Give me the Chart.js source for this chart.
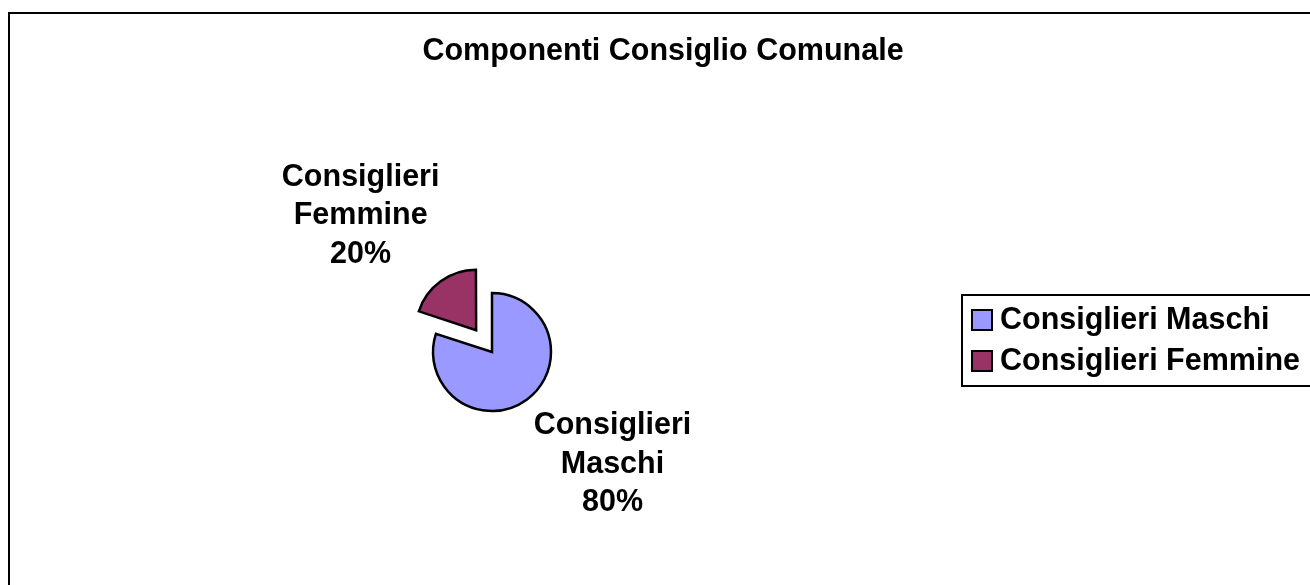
<!DOCTYPE html>
<html lang="it">
  <head>
    <meta charset="UTF-8" />
    <title>Componenti Consiglio Comunale</title>
    <script src="https://cdn.jsdelivr.net/npm/chart.js"></script>
    <style>
      html, body { margin: 0; padding: 0; background: #fff; }
      .wrap { position: relative; width: 1310px; height: 585px; }
    </style>
  </head>
  <body>
    <div class="wrap">
      <canvas id="pie" width="1310" height="585"></canvas>
    </div>
    <script>
      // data
      const chartTitle = "Componenti Consiglio Comunale";
      const categories = ["Consiglieri Maschi", "Consiglieri Femmine"];
      const shares = [80, 20];
      const sliceColors = ["#9999FF", "#993366"];
      const explode = [0, 108]; // chart.js v4 moves a slice by offset / 4

      const FONT = "'Liberation Sans', Arial, sans-serif";
      const BOLD = "bold 30.5px " + FONT;

      // white page, outer frame (only top and left edges visible) and title
      const framePlugin = {
        id: "frame",
        beforeDraw(chart) {
          const ctx = chart.ctx;
          ctx.save();
          ctx.fillStyle = "#fff";
          ctx.fillRect(0, 0, chart.width, chart.height);
          ctx.strokeStyle = "#000";
          ctx.lineWidth = 2;
          ctx.beginPath();
          ctx.moveTo(9, chart.height + 5);
          ctx.lineTo(9, 13);
          ctx.lineTo(chart.width + 5, 13);
          ctx.stroke();
          ctx.font = BOLD;
          ctx.fillStyle = "#000";
          ctx.textAlign = "center";
          ctx.textBaseline = "alphabetic";
          ctx.fillText(chartTitle, 663, 60);
          ctx.restore();
        }
      };

      // labels outside each slice: name + percent, bold, 3 lines
      const sliceLabels = {
        id: "sliceLabels",
        afterDatasetsDraw(chart) {
          const ctx = chart.ctx;
          const meta = chart.getDatasetMeta(0);
          const total = shares.reduce((a, b) => a + b, 0);
          ctx.save();
          ctx.font = BOLD;
          ctx.fillStyle = "#000";
          ctx.textAlign = "center";
          ctx.textBaseline = "middle";
          const lh = 38.5;
          meta.data.forEach((arc, i) => {
            const p = arc.getProps(["x", "y", "startAngle", "endAngle", "outerRadius"], true);
            const mid = (p.startAngle + p.endAngle) / 2;
            const push = explode[i] / 4;
            const ex = p.x + Math.cos(mid) * (p.outerRadius + push);
            const ey = p.y + Math.sin(mid) * (p.outerRadius + push);
            const words = categories[i].split(" ");
            const lines = words.concat([Math.round(shares[i] / total * 100) + "%"]);
            const w = Math.max(...lines.map(l => ctx.measureText(l).width));
            const h = lines.length * lh;
            const left = Math.cos(mid) >= 0 ? ex + 7 : ex - 2 - w;
            const top = Math.sin(mid) >= 0 ? ey + 7 : ey - 9 - h;
            lines.forEach((l, k) => {
              ctx.fillText(l, left + w / 2, top + lh / 2 + k * lh);
            });
          });
          ctx.restore();
        }
      };

      // boxed legend on the right
      const boxLegend = {
        id: "boxLegend",
        afterDraw(chart) {
          const ctx = chart.ctx;
          const ds = chart.data.datasets[0];
          ctx.save();
          ctx.strokeStyle = "#000";
          ctx.lineWidth = 2;
          ctx.strokeRect(962, 295, 400, 91);
          ctx.font = BOLD;
          ctx.textBaseline = "middle";
          ctx.textAlign = "left";
          chart.data.labels.forEach((lab, i) => {
            const cy = 320 + i * 41;
            ctx.fillStyle = ds.backgroundColor[i];
            ctx.fillRect(972, cy - 10, 20, 20);
            ctx.lineWidth = 2;
            ctx.strokeRect(972, cy - 10, 20, 20);
            ctx.fillStyle = "#000";
            ctx.fillText(lab, 1000, cy + 1);
          });
          ctx.restore();
        }
      };

      new Chart(document.getElementById("pie"), {
        type: "pie",
        data: {
          labels: categories,
          datasets: [{
            data: shares,
            backgroundColor: sliceColors,
            borderColor: "#000",
            borderWidth: 2.5,
            borderJoinStyle: "miter",
            offset: explode
          }]
        },
        options: {
          responsive: false,
          animation: false,
          radius: 59,
          layout: { padding: { left: 100, right: 426, top: 200, bottom: 81 } },
          plugins: {
            legend: { display: false },
            tooltip: { enabled: false },
            title: { display: false }
          }
        },
        plugins: [framePlugin, sliceLabels, boxLegend]
      });
    </script>
  </body>
</html>
